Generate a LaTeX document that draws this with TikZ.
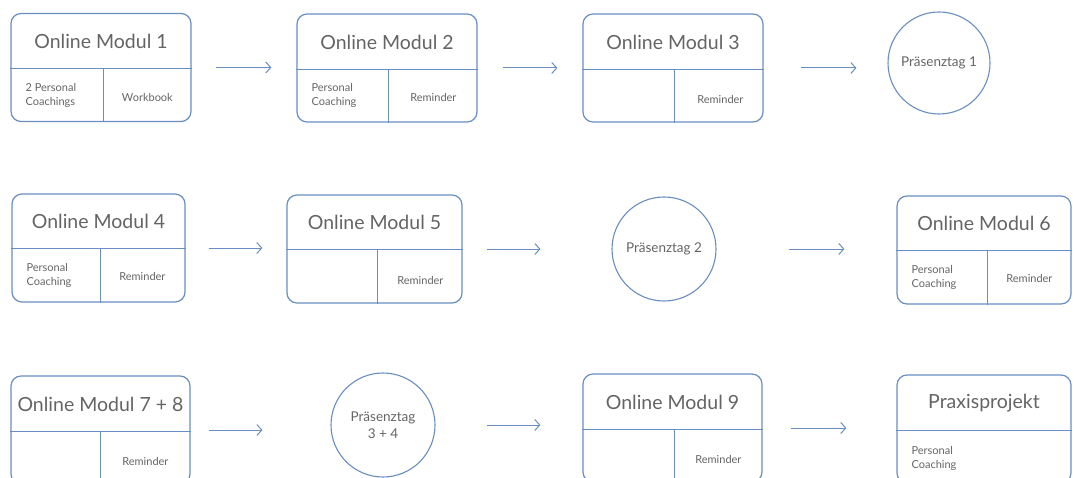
\documentclass[tikz,border=0pt]{standalone}
\usepackage{fontspec}
\setmainfont{Lato}
\usetikzlibrary{arrows.meta}
\definecolor{linie}{RGB}{104,142,194}
\definecolor{schrift}{RGB}{100,100,100}

\begin{document}
\begin{tikzpicture}[x=1pt,y=-1pt,
    modul/.style={draw=linie,line width=1.2pt,rounded corners=10pt,minimum height=108pt,inner sep=0pt},
    tag/.style={draw=linie,circle,line width=1.1pt,inner sep=0pt,text=schrift,font=\fontsize{13.5}{17}\selectfont,align=center},
    titel/.style={text=schrift,font=\fontsize{19.5}{24}\selectfont},
    klein/.style={text=schrift,font=\fontsize{11}{14}\selectfont,align=left,inner sep=0pt},
    trenn/.style={draw=linie,line width=1.1pt},
    pfeil/.style={draw=linie,line width=1pt,-{Straight Barb[length=5pt,width=11pt]}}]
        \useasboundingbox (0,0) rectangle (1083,478);
        % erste Reihe
        \node[modul,minimum width=180pt] (m1) at (101,67.5) {};
        \node[modul,minimum width=180pt] (m2) at (387,68) {};
        \node[modul,minimum width=180pt] (m3) at (673,68) {};
        \node[tag,minimum size=102pt] (p1) at (939,63) {Präsenztag 1};
        \draw[trenn] ([yshift=-56pt]m1.north west) -- ([yshift=-56pt]m1.north east);
        \draw[trenn] ([xshift=93pt,yshift=-56pt]m1.north west) -- ([xshift=93pt]m1.south west);
        \draw[trenn] ([yshift=-56pt]m2.north west) -- ([yshift=-56pt]m2.north east);
        \draw[trenn] ([xshift=92pt,yshift=-56pt]m2.north west) -- ([xshift=92pt]m2.south west);
        \draw[trenn] ([yshift=-56pt]m3.north west) -- ([yshift=-56pt]m3.north east);
        \draw[trenn] ([xshift=92pt,yshift=-56pt]m3.north west) -- ([xshift=92pt]m3.south west);
        \node[titel] (t1) at ([yshift=-29pt]m1.north) {Online Modul 1};
        \node[titel] (t2) at ([yshift=-29pt]m2.north) {Online Modul 2};
        \node[titel] (t3) at ([yshift=-29pt]m3.north) {Online Modul 3};
        \node[klein,anchor=west] (l1) at ([xshift=15pt,yshift=27pt]m1.south west) {2 Personal\\Coachings};
        \node[klein] (r1) at ([xshift=137pt,yshift=25pt]m1.south west) {Workbook};
        \node[klein,anchor=west] (l2) at ([xshift=15pt,yshift=27pt]m2.south west) {Personal\\Coaching};
        \node[klein] (r2) at ([xshift=137pt,yshift=25pt]m2.south west) {Reminder};
        \node[klein] (r3) at ([xshift=138pt,yshift=23pt]m3.south west) {Reminder};
        \draw[pfeil,shorten <=24pt,shorten >=25pt] (m1.east) -- (m1.east -| m2.west);
        \draw[pfeil,shorten <=25pt,shorten >=25pt] (m2.east) -- (m2.east -| m3.west);
        \draw[pfeil,shorten <=37pt,shorten >=31pt] (m3.east) -- (m3.east -| p1.west);
        % zweite Reihe
        \node[modul,minimum width=173pt] (m4) at (98.5,248) {};
        \node[modul,minimum width=175pt] (m5) at (374.5,249) {};
        \node[tag,minimum size=104pt] (p2) at (664,249) {Präsenztag 2};
        \node[modul,minimum width=174pt] (m6) at (984,250) {};
        \draw[trenn] ([yshift=-55pt]m4.north west) -- ([yshift=-55pt]m4.north east);
        \draw[trenn] ([xshift=89pt,yshift=-55pt]m4.north west) -- ([xshift=89pt]m4.south west);
        \draw[trenn] ([yshift=-55pt]m5.north west) -- ([yshift=-55pt]m5.north east);
        \draw[trenn] ([xshift=91pt,yshift=-55pt]m5.north west) -- ([xshift=91pt]m5.south west);
        \draw[trenn] ([yshift=-55pt]m6.north west) -- ([yshift=-55pt]m6.north east);
        \draw[trenn] ([xshift=91pt,yshift=-55pt]m6.north west) -- ([xshift=91pt]m6.south west);
        \node[titel] (t4) at ([yshift=-28pt]m4.north) {Online Modul 4};
        \node[titel] (t5) at ([yshift=-28pt]m5.north) {Online Modul 5};
        \node[titel] (t6) at ([yshift=-28pt]m6.north) {Online Modul 6};
        \node[klein,anchor=west] (l4) at ([xshift=15pt,yshift=27pt]m4.south west) {Personal\\Coaching};
        \node[klein] (r4) at ([xshift=131pt,yshift=26pt]m4.south west) {Reminder};
        \node[klein] (r5) at ([xshift=134pt,yshift=23pt]m5.south west) {Reminder};
        \node[klein,anchor=west] (l6) at ([xshift=15pt,yshift=27pt]m6.south west) {Personal\\Coaching};
        \node[klein] (r6) at ([xshift=133pt,yshift=26pt]m6.south west) {Reminder};
        \draw[pfeil,shorten <=23pt,shorten >=24pt] (m4.east) -- (m4.east -| m5.west);
        \draw[pfeil,shorten <=24pt,shorten >=71pt] (m5.east) -- (m5.east -| p2.west);
        \draw[pfeil,shorten <=72pt,shorten >=52pt] (p2.east) -- (p2.east -| m6.west);
        % dritte Reihe
        \node[modul,minimum width=179pt] (m7) at (100.5,430) {};
        \node[tag,minimum size=104pt] (p3) at (383,425) {Präsenztag\\3 + 4};
        \node[modul,minimum width=179pt] (m9) at (672.5,428) {};
        \node[modul,minimum width=174pt] (m10) at (984,429) {};
        \draw[trenn] ([yshift=-56pt]m7.north west) -- ([yshift=-56pt]m7.north east);
        \draw[trenn] ([xshift=90pt,yshift=-56pt]m7.north west) -- ([xshift=90pt]m7.south west);
        \draw[trenn] ([yshift=-56pt]m9.north west) -- ([yshift=-56pt]m9.north east);
        \draw[trenn] ([xshift=92pt,yshift=-56pt]m9.north west) -- ([xshift=92pt]m9.south west);
        \draw[trenn] ([yshift=-56pt]m10.north west) -- ([yshift=-56pt]m10.north east);
        \node[titel] (t7) at ([yshift=-29pt]m7.north) {Online Modul 7 + 8};
        \node[titel] (t9) at ([yshift=-29pt]m9.north) {Online Modul 9};
        \node[titel] (t10) at ([yshift=-29pt]m10.north) {Praxisprojekt};
        \node[klein] (r7) at ([xshift=135pt,yshift=23pt]m7.south west) {Reminder};
        \node[klein] (r9) at ([xshift=136pt,yshift=23pt]m9.south west) {Reminder};
        \node[klein,anchor=west] (l10) at ([xshift=15pt,yshift=25pt]m10.south west) {Personal\\Coaching};
        \draw[pfeil,shorten <=18pt,shorten >=68pt] (m7.east) -- (m7.east -| p3.west);
        \draw[pfeil,shorten <=51pt,shorten >=42pt] (p3.east) -- (p3.east -| m9.west);
        \draw[pfeil,shorten <=28pt,shorten >=50pt] (m9.east) -- (m9.east -| m10.west);
    \end{tikzpicture}
\end{document}
